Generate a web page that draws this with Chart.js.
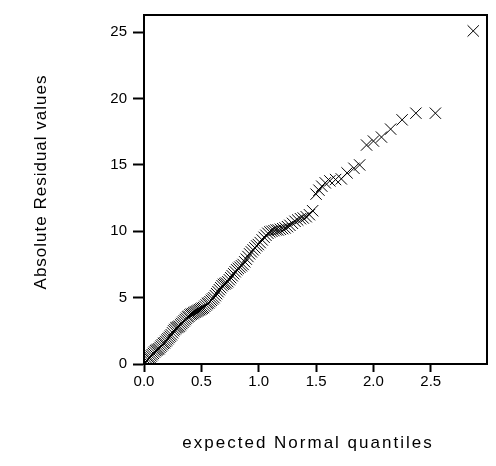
<!DOCTYPE html>
<html>
<head>
<meta charset="utf-8">
<script src="https://cdn.jsdelivr.net/npm/chart.js@4/dist/chart.umd.min.js"></script>
<style>
html, body { margin: 0; padding: 0; background: #fff; }
</style>
</head>
<body>
<canvas id="qqChart" width="496" height="466"></canvas>
<script>
// expected half-normal quantiles (x) and sorted absolute residuals (y)
const quantiles = [
  0.005, 0.014, 0.024, 0.034, 0.043, 0.053, 0.063, 0.072, 0.082, 0.092,
  0.101, 0.111, 0.121, 0.131, 0.140, 0.150, 0.160, 0.170, 0.179, 0.189,
  0.199, 0.209, 0.219, 0.229, 0.239, 0.249, 0.258, 0.268, 0.278, 0.288,
  0.298, 0.308, 0.319, 0.329, 0.339, 0.350, 0.360, 0.370, 0.381, 0.391,
  0.401, 0.412, 0.422, 0.433, 0.444, 0.454, 0.465, 0.476, 0.486, 0.497,
  0.508, 0.519, 0.530, 0.542, 0.553, 0.564, 0.575, 0.587, 0.598, 0.610,
  0.622, 0.633, 0.645, 0.657, 0.669, 0.681, 0.693, 0.705, 0.718, 0.731,
  0.744, 0.756, 0.769, 0.782, 0.795, 0.808, 0.822, 0.836, 0.850, 0.864,
  0.878, 0.892, 0.906, 0.921, 0.936, 0.951, 0.967, 0.982, 0.997, 1.013,
  1.030, 1.047, 1.063, 1.080, 1.097, 1.115, 1.133, 1.152, 1.170, 1.189,
  1.209, 1.230, 1.251, 1.272, 1.294, 1.317, 1.340, 1.364, 1.388, 1.414,
  1.442, 1.470, 1.500, 1.525, 1.550, 1.580, 1.620, 1.670, 1.720, 1.770,
  1.830, 1.880, 1.940, 2.000, 2.070, 2.150, 2.250, 2.370, 2.540, 2.870
];
const absResiduals = [
  0.05, 0.15, 0.25, 0.35, 0.45, 0.50, 0.60, 0.70, 0.80, 0.90,
  1.00, 1.05, 1.10, 1.15, 1.25, 1.35, 1.45, 1.55, 1.60, 1.70,
  1.80, 1.90, 2.00, 2.10, 2.20, 2.35, 2.50, 2.60, 2.70, 2.75,
  2.80, 2.85, 2.95, 3.05, 3.15, 3.25, 3.35, 3.45, 3.55, 3.60,
  3.70, 3.75, 3.80, 3.85, 3.90, 3.95, 4.00, 4.05, 4.10, 4.15,
  4.20, 4.25, 4.35, 4.45, 4.55, 4.60, 4.70, 4.80, 4.90, 5.00,
  5.15, 5.30, 5.45, 5.60, 5.75, 5.90, 6.00, 6.05, 6.10, 6.20,
  6.35, 6.50, 6.65, 6.80, 6.95, 7.10, 7.20, 7.30, 7.40, 7.50,
  7.70, 7.90, 8.10, 8.30, 8.45, 8.60, 8.75, 8.90, 9.00, 9.15,
  9.35, 9.55, 9.70, 9.85, 9.95, 10.00, 10.05, 10.10, 10.10, 10.15,
  10.20, 10.25, 10.35, 10.45, 10.60, 10.75, 10.85, 10.95, 11.00, 11.10,
  11.25, 11.55, 12.80, 13.10, 13.40, 13.65, 13.80, 13.90, 13.95, 14.40,
  14.75, 15.00, 16.50, 16.80, 17.10, 17.70, 18.40, 18.90, 18.90, 25.10
];
const xTicks = [0, 0.5, 1.0, 1.5, 2.0, 2.5];
const yTicks = [0, 5, 10, 15, 20, 25];
const xTitle = 'expected Normal quantiles';
const yTitle = 'Absolute Residual values';

const points = quantiles.map((q, i) => ({ x: q, y: absResiduals[i] }));
const FONT = 'Liberation Sans, Arial, sans-serif';

// box around plot area + the two axis titles (spaced out like the original)
const frame = {
  id: 'frame',
  afterDraw(chart) {
    const a = chart.chartArea;
    const c = chart.ctx;
    c.save();
    c.strokeStyle = '#000';
    c.lineWidth = 2;
    c.strokeRect(a.left, a.top, a.right - a.left, a.bottom - a.top);

    c.fillStyle = '#000';
    c.font = '17px ' + FONT;
    c.textAlign = 'center';
    c.textBaseline = 'middle';
    c.letterSpacing = '2px';
    c.fillText(xTitle, 308, 443);

    c.letterSpacing = '1px';
    c.translate(41, 182);
    c.rotate(-Math.PI / 2);
    c.fillText(yTitle, 0, 0);
    c.restore();
  }
};

const ctx = document.getElementById('qqChart').getContext('2d');

const qqChart = new Chart(ctx, {
  type: 'scatter',
  data: {
    datasets: [{
      data: points,
      pointStyle: 'crossRot',
      pointRadius: 8,
      pointBorderWidth: 1,
      borderColor: '#000',
      backgroundColor: '#000'
    }]
  },
  options: {
    responsive: false,
    animation: false,
    devicePixelRatio: 1,
    layout: { padding: { top: 14, right: 4, left: 0, bottom: 0 } },
    plugins: {
      legend: { display: false },
      tooltip: { enabled: false }
    },
    scales: {
      x: {
        type: 'linear',
        min: 0,
        max: 2.99,
        afterFit: s => { s.height = 102; },
        afterBuildTicks: s => { s.ticks = xTicks.map(v => ({ value: v })); },
        grid: { drawOnChartArea: false, tickLength: 8, tickWidth: 2, tickColor: '#000' },
        border: { color: '#000', width: 2 },
        ticks: {
          color: '#000',
          padding: 1,
          maxRotation: 0,
          font: { family: FONT, size: 15 },
          callback: v => v.toFixed(1)
        }
      },
      y: {
        type: 'linear',
        min: 0,
        max: 26.3,
        afterFit: s => { s.width = 144; },
        afterBuildTicks: s => { s.ticks = yTicks.map(v => ({ value: v })); },
        grid: { drawOnChartArea: false, tickLength: 11, tickWidth: 2, tickColor: '#000' },
        border: { color: '#000', width: 2 },
        ticks: {
          color: '#000',
          padding: 6,
          font: { family: FONT, size: 15 }
        }
      }
    }
  },
  plugins: [frame]
});
</script>
</body>
</html>
